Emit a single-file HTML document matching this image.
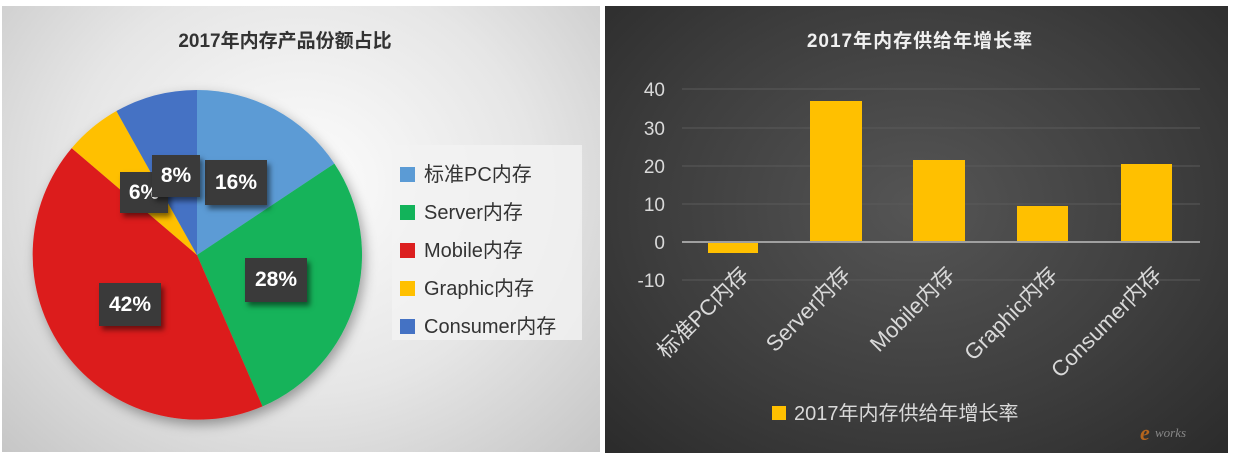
<!DOCTYPE html>
<html><head><meta charset="utf-8"><style>
body{margin:0;width:1233px;height:458px;background:#fff;position:relative;overflow:hidden;font-family:"Liberation Sans","Noto Sans CJK SC",sans-serif}
#L{position:absolute;left:2px;top:6px;width:598px;height:446px;background:radial-gradient(ellipse at 50% 40%,#fdfdfd 0%,#e6e6e6 55%,#c6c6c6 100%)}
#R{position:absolute;left:605px;top:6px;width:623px;height:447px;background:radial-gradient(ellipse at 50% 45%,#555 0%,#3d3d3d 60%,#2b2b2b 100%)}
.lab{position:absolute;background:#3a3a3a;color:#fff;font-weight:bold;font-size:21px;text-align:center;box-shadow:3px 4px 5px rgba(0,0,0,.5)}
.lg{position:absolute;left:400px;font-size:20px;color:#333}
.lg i{display:inline-block;width:15px;height:15px;margin-right:9px;vertical-align:-1px}
</style></head><body>
<div id="L"></div><div id="R"></div>
<svg width="1233" height="458" style="position:absolute;left:0;top:0">
<defs><filter id="sh"><feDropShadow dx="3" dy="5" stdDeviation="6" flood-opacity=".35"/></filter></defs>
<text x="285" y="47" text-anchor="middle" font-size="19" font-weight="bold" fill="#333" font-family="Liberation Sans,Noto Sans CJK SC,sans-serif">2017年内存产品份额占比</text>
<g filter="url(#sh)">
<path d="M197,255 L197,90 A165,165 0 0 1 334.4,163.6 Z" fill="#5b9bd5"/>
<path d="M197,255 L334.4,163.6 A165,165 0 0 1 262.5,406.4 Z" fill="#12b35a"/>
<path d="M197,255 L262.5,406.4 A165,165 0 0 1 71.7,148.1 Z" fill="#dc1f1f"/>
<path d="M197,255 L71.7,148.1 A165,165 0 0 1 116.4,111 Z" fill="#ffc000"/>
<path d="M197,255 L116.4,111 A165,165 0 0 1 197,90 Z" fill="#4472c4"/>
</g>
<rect x="392" y="145" width="190" height="195" fill="#f2f2f2" opacity=".8"/>
<g stroke="#5a5a5a" stroke-width="1">
<line x1="682" y1="89" x2="1200" y2="89"/><line x1="682" y1="128" x2="1200" y2="128"/><line x1="682" y1="166" x2="1200" y2="166"/><line x1="682" y1="204" x2="1200" y2="204"/><line x1="682" y1="280" x2="1200" y2="280"/></g>
<g fill="#ffc000">
<rect x="708" y="242" width="50" height="11"/><rect x="810" y="101" width="52" height="141"/><rect x="913" y="160" width="52" height="82"/><rect x="1017" y="206" width="51" height="36"/><rect x="1121" y="164" width="51" height="78"/></g>
<line x1="682" y1="242" x2="1200" y2="242" stroke="#a0a0a0" stroke-width="2"/>
<g font-size="19" fill="#d9d9d9" text-anchor="end" font-family="Liberation Sans,sans-serif">
<text x="665" y="96">40</text><text x="665" y="135">30</text><text x="665" y="173">20</text><text x="665" y="211">10</text><text x="665" y="249">0</text><text x="665" y="287">-10</text></g>
<text x="920" y="47" text-anchor="middle" font-size="19" font-weight="bold" fill="#f0f0f0" letter-spacing="1" font-family="Liberation Sans,Noto Sans CJK SC,sans-serif">2017年内存供给年增长率</text>
<g font-size="22" fill="#d9d9d9" text-anchor="end" font-family="Liberation Sans,Noto Sans CJK SC,sans-serif">
<text transform="translate(750,276) rotate(-45)">标准PC内存</text>
<text transform="translate(852,276) rotate(-45)">Server内存</text>
<text transform="translate(956,276) rotate(-45)">Mobile内存</text>
<text transform="translate(1059,276) rotate(-45)">Graphic内存</text>
<text transform="translate(1163,276) rotate(-45)">Consumer内存</text>
</g>
<rect x="772" y="406" width="14" height="14" fill="#ffc000"/>
<text x="794" y="420" font-size="20" fill="#d9d9d9" font-family="Liberation Sans,Noto Sans CJK SC,sans-serif">2017年内存供给年增长率</text>
<text x="1140" y="440" font-size="22" font-style="italic" font-weight="bold" fill="#b5651d" font-family="Liberation Serif,serif">e</text>
<text x="1155" y="437" font-size="13" font-style="italic" fill="#888" font-family="Liberation Serif,serif">works</text>
</svg>
<div class="lab" style="left:205px;top:160px;width:62px;height:45px;line-height:45px">16%</div>
<div class="lab" style="left:120px;top:172px;width:48px;height:41px;line-height:41px">6%</div>
<div class="lab" style="left:152px;top:155px;width:48px;height:42px;line-height:42px">8%</div>
<div class="lab" style="left:245px;top:258px;width:62px;height:44px;line-height:44px">28%</div>
<div class="lab" style="left:99px;top:283px;width:62px;height:43px;line-height:43px">42%</div>
<div class="lg" style="top:158px"><i style="background:#5b9bd5"></i>标准PC内存</div>
<div class="lg" style="top:196px"><i style="background:#12b35a"></i>Server内存</div>
<div class="lg" style="top:234px"><i style="background:#dc1f1f"></i>Mobile内存</div>
<div class="lg" style="top:272px"><i style="background:#ffc000"></i>Graphic内存</div>
<div class="lg" style="top:310px"><i style="background:#4472c4"></i>Consumer内存</div>
</body></html>
